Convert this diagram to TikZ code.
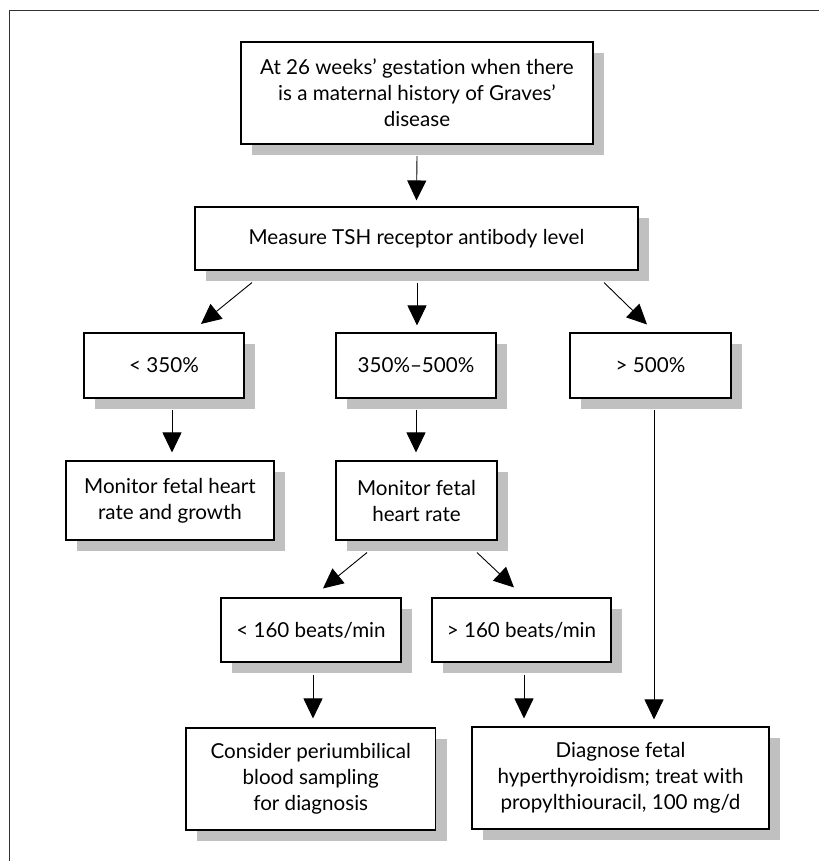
\documentclass[tikz,border=0pt]{standalone}
\usepackage{fontspec}
\setmainfont{Lato}[Ligatures={NoCommon}]
\usetikzlibrary{arrows.meta,calc}
\definecolor{shadowgray}{HTML}{C0C0C0}
\definecolor{framegray}{HTML}{333333}
\tikzset{
  box/.style={draw=black, line width=1.1pt, fill=white, align=center,
    inner sep=0pt, font=\fontsize{20.6}{26}\selectfont,
    preaction={draw=none, fill=shadowgray, transform canvas={xshift=11pt,yshift=-11pt}}},
  arr/.style={line width=0.9pt, -{Triangle[length=20pt,width=19pt]}}
}
\begin{document}
\begin{tikzpicture}[x=1pt,y=-1pt]
\useasboundingbox (0,0) rectangle (819,861);
\draw[framegray, line width=1.5pt] (9.5,861) -- (9.5,10.7) -- (819,10.7);

\node[box, minimum width=352pt, minimum height=102pt] (b1) at (417,93)
  {At 26 weeks' gestation when there\\is a maternal history of Graves'\\disease};
\node[box, minimum width=443pt, minimum height=63pt] (b2) at (416.5,238.5)
  {Measure TSH receptor antibody level};
\node[box, minimum width=160pt, minimum height=65pt] (b3a) at (164,365.5) {< 350\%};
\node[box, minimum width=160pt, minimum height=65pt] (b3b) at (416,365.5) {350\%--500\%};
\node[box, minimum width=161pt, minimum height=65pt] (b3c) at (650.5,365.5) {> 500\%};
\node[box, minimum width=208pt, minimum height=79pt] (b4a) at (170,500.5)
  {Monitor fetal heart\\rate and growth};
\node[box, minimum width=161pt, minimum height=79pt] (b4b) at (416.5,500.5)
  {Monitor fetal\\heart rate};
\node[box, minimum width=180pt, minimum height=64pt] (b5a) at (311,630) {< 160 beats/min};
\node[box, minimum width=179pt, minimum height=64pt] (b5b) at (521.5,630) {> 160 beats/min};
\node[box, minimum width=249.5pt, minimum height=102pt] (b6a) at (310.75,779)
  {Consider periumbilical\\blood sampling\\for diagnosis};
\node[box, minimum width=297pt, minimum height=102pt] (b6b) at (620.5,778)
  {Diagnose fetal\\hyperthyroidism; treat with\\propylthiouracil, 100 mg/d};

\draw[arr] ([yshift=-11.5pt]b1.south) -- ([yshift=6pt]b2.north);
\draw[arr] ([xshift=-164.5pt,yshift=-12pt]b2.south) -- ([xshift=37pt,yshift=8.5pt]b3a.north);
\draw[arr] ([xshift=0.5pt,yshift=-12pt]b2.south) -- ([xshift=1pt,yshift=7pt]b3b.north);
\draw[arr] ([xshift=187.5pt,yshift=-12pt]b2.south) -- ([xshift=-3.5pt,yshift=8pt]b3c.north);
\draw[arr] ([xshift=8pt,yshift=-11pt]b3a.south) -- ([xshift=2pt,yshift=8pt]b4a.north);
\draw[arr] ([yshift=-11pt]b3b.south) -- ([xshift=-0.5pt,yshift=8pt]b4b.north);
\draw[arr] ([xshift=3.5pt,yshift=-11pt]b3c.south) -- ([xshift=33.5pt,yshift=7pt]b6b.north);
\draw[arr] ([xshift=-49.5pt,yshift=-12pt]b4b.south) -- ([xshift=12pt,yshift=9pt]b5a.north);
\draw[arr] ([xshift=60.5pt,yshift=-12pt]b4b.south) -- ([xshift=-7.5pt,yshift=10pt]b5b.north);
\draw[arr] ([xshift=2pt,yshift=-12pt]b5a.south) -- ([xshift=2.25pt,yshift=9pt]b6a.north);
\draw[arr] ([xshift=2.5pt,yshift=-12pt]b5b.south) -- ([xshift=-96.5pt,yshift=8pt]b6b.north);
\end{tikzpicture}
\end{document}
